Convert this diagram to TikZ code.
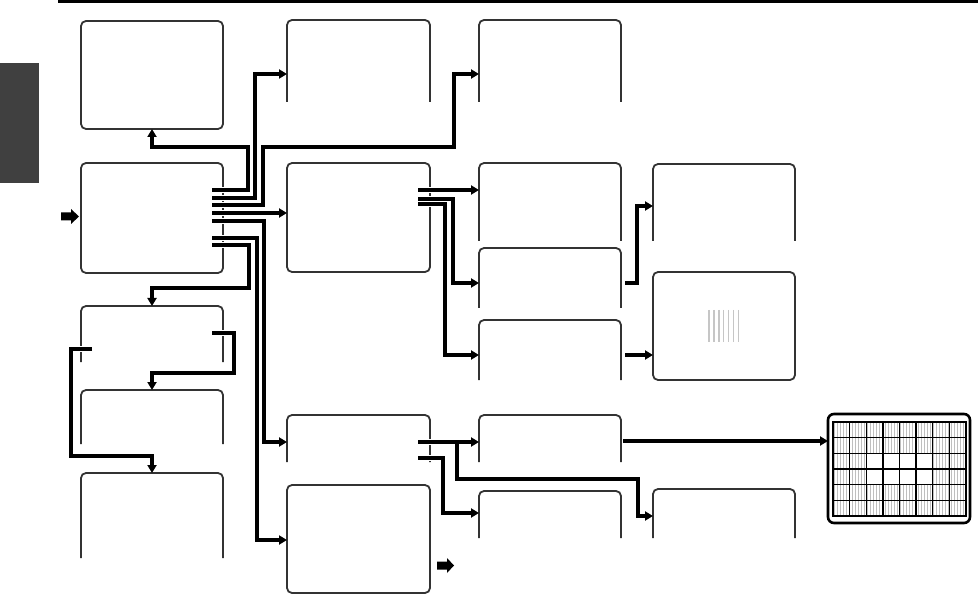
\documentclass[tikz,border=0pt]{standalone}
\usetikzlibrary{arrows.meta}
\begin{document}
\begin{tikzpicture}[x=1pt,y=-1pt,
  boxn/.style={rectangle, draw=none, inner sep=0pt, outer sep=0pt},
  boxline/.style={draw=black!80, line width=1.8pt, rounded corners=5pt},
  conn/.style={draw=black, line width=3.3pt, -{Triangle[length=8pt,width=9pt]}},
  halo/.style={draw=white, line width=5.4pt},
  stripe/.style={draw=gray!50, line width=1.4pt},
  fatarrow/.style={fill=black}]
\useasboundingbox (0,0) rectangle (978,596);

% header rule and side tab
\draw[line width=3.3pt] (58,1.65) -- (978,1.65);
\fill[black!75] (0,63) rectangle (39,183);

% box nodes
\node[boxn, minimum width=142pt, minimum height=108pt] (A) at (152,75) {};
\node[boxn, minimum width=143pt, minimum height=82pt]  (B) at (358.5,61) {};
\node[boxn, minimum width=142pt, minimum height=82pt]  (C) at (550,61) {};
\node[boxn, minimum width=142pt, minimum height=110pt] (D) at (152,218) {};
\node[boxn, minimum width=143pt, minimum height=109pt] (E) at (358.5,217.5) {};
\node[boxn, minimum width=142pt, minimum height=78pt]  (F) at (550,202) {};
\node[boxn, minimum width=142pt, minimum height=77pt]  (G) at (724,202.5) {};
\node[boxn, minimum width=142pt, minimum height=60pt]  (H) at (550,278) {};
\node[boxn, minimum width=142pt, minimum height=60pt]  (I) at (550,350) {};
\node[boxn, minimum width=142pt, minimum height=108pt] (J) at (724,326) {};
\node[boxn, minimum width=142pt, minimum height=56pt]  (K) at (152,334) {};
\node[boxn, minimum width=142pt, minimum height=54pt]  (L) at (152,417) {};
\node[boxn, minimum width=142pt, minimum height=85pt]  (M) at (152,515.5) {};
\node[boxn, minimum width=143pt, minimum height=47pt]  (N) at (358.5,438.5) {};
\node[boxn, minimum width=143pt, minimum height=108pt] (O) at (358.5,539) {};
\node[boxn, minimum width=142pt, minimum height=47pt]  (P) at (550,438.5) {};
\node[boxn, minimum width=142pt, minimum height=47pt]  (Q) at (550,514.5) {};
\node[boxn, minimum width=142pt, minimum height=49pt]  (R) at (724,513.5) {};
\node[boxn, minimum width=142pt, minimum height=109pt] (S) at (899,468.5) {};

% closed boxes
\foreach \b in {A,D,E,J,O}
  \draw[boxline] (\b.south west) rectangle (\b.north east);
% open-bottom boxes
\foreach \b in {B,C,F,G,H,I,K,L,M,N,P,Q,R}
  \draw[boxline] (\b.south west) -- (\b.north west) -- (\b.north east) -- (\b.south east);

% grid screen
\draw[black, line width=2.6pt, rounded corners=6pt] (S.south west) rectangle (S.north east);
\foreach \i in {0,...,43} \draw[stripe] ({834.5+\i*3},422) -- ({834.5+\i*3},516);
\fill[white] (866.25,453.33) rectangle (932.75,484.67);
\foreach \i in {0,...,8} \draw[black, line width=1.3pt] ({833+\i*16.625},422) -- ({833+\i*16.625},516);
\foreach \j in {0,...,6} \draw[black, line width=1.3pt] (833,{422+\j*15.667}) -- (966,{422+\j*15.667});
\draw[black, line width=1.6pt] (833,422) rectangle (966,516);

% stripe pattern in J
\foreach \i in {0,...,6} \draw[draw=gray!45, line width=1.4pt] ({709+\i*4.9},310) -- ({709+\i*4.9},342);

% gaps where connectors leave boxes
\foreach \yy in {190,198,205,213,221,238,245} \draw[halo] (218,\yy) -- (228,\yy);
\foreach \yy in {190,199,204,442,458} \draw[halo] (425,\yy) -- (435,\yy);
\draw[halo] (218,333) -- (228,333);
\draw[halo] (76,349) -- (86,349);

% connectors from D
\draw[conn] (212,190) -- (248,190) -- (248,147) -| (A.south);
\draw[conn] (212,198) -- (255,198) -- (255,74) -- (287,74);
\draw[conn] (212,205) -- (263,205) -- (263,147) -- (454,147) -- (454,74) -- (479,74);
\draw[conn] (212,213) -- (287,213);
\draw[conn] (212,221) -- (264,221) -- (264,442) -- (287,442);
\draw[conn] (212,238) -- (257,238) -- (257,540) -- (287,540);
\draw[conn] (212,245) -- (249,245) -- (249,288) -| (K.north);
% from K
\draw[conn] (212,333) -- (234,333) -- (234,373) -| (L.north);
\draw[conn] (92,349) -- (71,349) -- (71,456) -| (M.north);
% from E
\draw[conn] (418,190) -- (479,190);
\draw[conn] (418,199) -- (453,199) -- (453,283) -- (479,283);
\draw[conn] (418,204) -- (445,204) -- (445,355) -- (479,355);
% to G and J
\draw[conn] (625,283) -- (637,283) -- (637,206) -- (653,206);
\draw[conn] (625,355) -- (653,355);
% from N and P
\draw[conn] (418,442) -- (479,442);
\draw[conn] (457,442) -- (457,479) -- (638,479) -- (638,516) -- (653,516);
\draw[conn] (418,458) -- (443,458) -- (443,513) -- (479,513);
\draw[conn] (623,441) -- (828,441);

% block arrows
\fill[fatarrow] (61,212.5) -- (71,212.5) -- (71,209) -- (79,216.5) -- (71,224) -- (71,220.5) -- (61,220.5) -- cycle;
\fill[fatarrow] (437,561.5) -- (447,561.5) -- (447,558) -- (454,565.5) -- (447,573) -- (447,569.5) -- (437,569.5) -- cycle;
\end{tikzpicture}
\end{document}
